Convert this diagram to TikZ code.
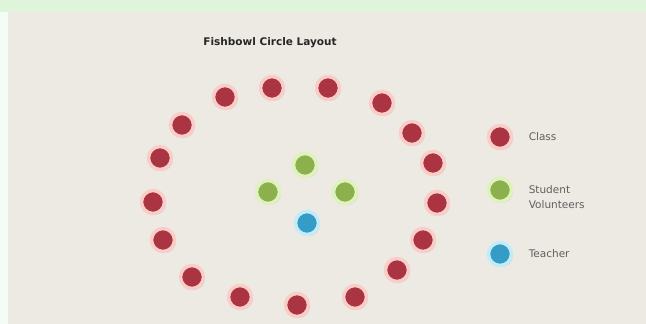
\documentclass[tikz,border=0pt]{standalone}
\usepackage{fontspec}
\setmainfont{DejaVu Sans}
\usetikzlibrary{shadows, positioning}
\definecolor{panel}{RGB}{237,234,228}
\definecolor{topgreen}{RGB}{222,245,220}
\definecolor{classred}{RGB}{170,52,66}
\definecolor{classrim}{RGB}{250,206,200}
\definecolor{volgreen}{RGB}{140,176,78}
\definecolor{volrim}{RGB}{222,242,188}
\definecolor{teachblue}{RGB}{52,156,198}
\definecolor{teachrim}{RGB}{196,236,248}
\definecolor{keygray}{RGB}{95,95,95}

\tikzset{
  seat/.style={circle, minimum size=23pt, inner sep=0pt, line width=3.5pt,
    drop shadow={shadow xshift=1.5pt, shadow yshift=-1.5pt, fill=black!40, opacity=0.35}},
  classseat/.style={seat, fill=classred, draw=classrim},
  volseat/.style={seat, fill=volgreen, draw=volrim},
  teachseat/.style={seat, fill=teachblue, draw=teachrim},
  keytext/.style={anchor=west, text=keygray, font=\fontsize{10.5}{14.5}\selectfont, align=left}
}

\begin{document}
\begin{tikzpicture}[x=1pt, y=-1pt]
        \useasboundingbox (0,0) rectangle (646,324);
        % Background
        \fill[topgreen] (0,0) rectangle (646,324);
        \fill[white!70!topgreen] (0,12) rectangle (8,324);
        \fill[panel] (8,12) rectangle (646,324);

        % Title
        \node[font=\bfseries\fontsize{10.5}{12}\selectfont, text=black!85] (title) at (270,43) {Fishbowl Circle Layout};

        % Outer circle: class
        \foreach \x/\y [count=\i] in {225/97, 272/88, 328/88, 382/103, 412/133, 433/163,
            437/203, 423/240, 397/270, 355/297, 297/305, 240/297, 192/277,
            163/240, 153/202, 160/158, 182/125} {
            \node[classseat] (class\i) at (\x,\y) {};
        }

        % Inner circle: volunteers and teacher
        \node[volseat] (vol1) at (305,165) {};
        \node[volseat] (vol2) at (268,192) {};
        \node[volseat] (vol3) at (345,192) {};
        \node[teachseat] (teacher) at (307,223) {};

        % Legend
        \node[classseat] (keyclass) at (500,137) {};
        \node[keytext, right=12pt of keyclass] (keyclasstext) {Class};
        \node[volseat] (keyvol) at (500,190) {};
        \node[keytext, right=12pt of keyvol, yshift=-7pt] (keyvoltext) {Student\\Volunteers};
        \node[teachseat] (keyteach) at (500,254) {};
        \node[keytext, right=12pt of keyteach] (keyteachtext) {Teacher};
    \end{tikzpicture}
\end{document}
